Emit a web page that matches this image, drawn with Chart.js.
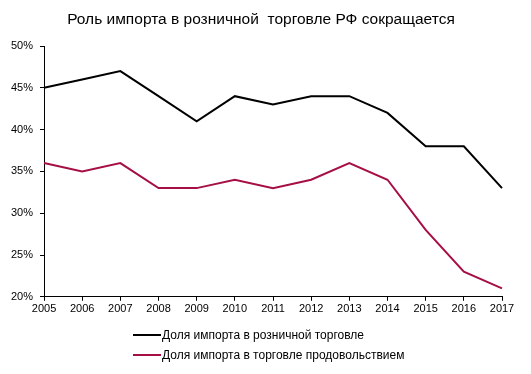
<!DOCTYPE html>
<html>
<head>
<meta charset="utf-8">
<script src="https://cdn.jsdelivr.net/npm/chart.js@4"></script>
<style>
  body { margin: 0; background: #fff; }
  #wrap { position: relative; width: 531px; height: 374px; }
  #title { position: absolute; left: 0; width: 522px; top: 10px; text-align: center; font: 15.5px "Liberation Sans", Arial, sans-serif; color: #000; white-space: pre; }
  #legend { position: absolute; left: 133px; top: 325px; font: 12px "Liberation Sans", Arial, sans-serif; color: #000; }
  #legend div { height: 20px; display: flex; align-items: center; }
  #legend span.line { display: inline-block; width: 28px; height: 2px; margin-right: 1px; }
</style>
</head>
<body>
<div id="wrap">
  <canvas id="chart" width="531" height="374"></canvas>
  <div id="title">Роль импорта в розничной  торговле РФ сокращается</div>
  <div id="legend"></div>
</div>
<script>
const years = ['2005', '2006', '2007', '2008', '2009', '2010', '2011', '2012', '2013', '2014', '2015', '2016', '2017'];
const retailShare = [45, 46, 47, 44, 41, 44, 43, 44, 44, 42, 38, 38, 33];
const foodShare = [36, 35, 36, 33, 33, 34, 33, 34, 36, 34, 28, 23, 21];
const seriesNames = ['Доля импорта в розничной торговле', 'Доля импорта в торговле продовольствием'];
const colors = ['#000000', '#A50F45'];

const font = { family: '"Liberation Sans", Arial, sans-serif', size: 11 };

const chart = new Chart(document.getElementById('chart'), {
    type: 'line',
    data: {
        labels: years,
        datasets: [
            { label: seriesNames[0], data: retailShare, borderColor: colors[0], borderWidth: 2, pointRadius: 0, tension: 0 },
            { label: seriesNames[1], data: foodShare, borderColor: colors[1], borderWidth: 2, pointRadius: 0, tension: 0 }
        ]
    },
    options: {
        responsive: false,
        animation: false,
        layout: { padding: { left: 4, right: 29, top: 46, bottom: 56 } },
        plugins: {
            legend: { display: false },
            tooltip: { enabled: false }
        },
        scales: {
            x: {
                offset: false,
                grid: { drawOnChartArea: false, drawTicks: true, tickLength: 4, color: '#000' },
                border: { color: '#000', width: 1 },
                ticks: { color: '#000', font: font, maxRotation: 0, autoSkip: false, padding: 2 }
            },
            y: {
                min: 20,
                max: 50,
                grid: { drawOnChartArea: false, drawTicks: true, tickLength: 4, color: '#000' },
                border: { color: '#000', width: 1 },
                ticks: { color: '#000', font: font, stepSize: 5, padding: 7, callback: v => v + '%' }
            }
        }
    }
});

// легенда в столбик, как в оригинале
document.getElementById('legend').innerHTML = chart.data.datasets.map(ds => `
    <div><span class="line" style="background:${ds.borderColor}"></span>${ds.label}</div>
`).join('');
</script>
</body>
</html>
